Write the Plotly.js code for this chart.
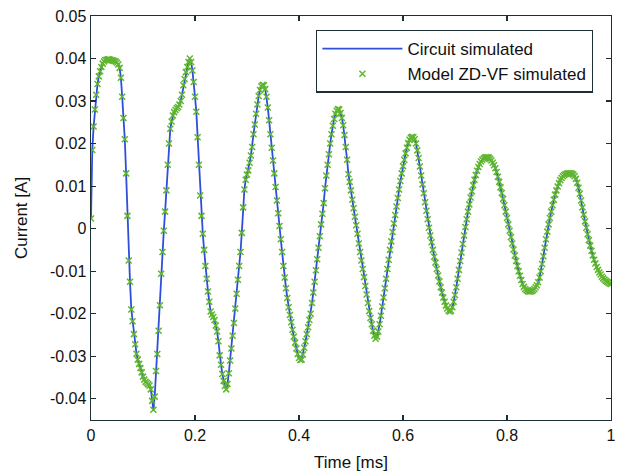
<!DOCTYPE html>
<html>
<head>
<meta charset="utf-8">
<script src="https://cdn.plot.ly/plotly-3.0.1.min.js"></script>
<style>html,body{margin:0;padding:0;background:#fff;}#chart{width:620px;height:475px;}</style>
</head>
<body>
<div id="chart"></div>
<script>
// Time axis [ms], sampled every 0.0025 ms
const timeMs = [
0.0000,0.0025,0.0050,0.0075,0.0100,0.0125,0.0150,0.0175,0.0200,0.0225,0.0250,0.0275,0.0300,0.0325,0.0350,0.0375,0.0400,0.0425,0.0450,0.0475,
0.0500,0.0525,0.0550,0.0575,0.0600,0.0625,0.0650,0.0675,0.0700,0.0725,0.0750,0.0775,0.0800,0.0825,0.0850,0.0875,0.0900,0.0925,0.0950,0.0975,
0.1000,0.1025,0.1050,0.1075,0.1100,0.1125,0.1150,0.1175,0.1200,0.1225,0.1250,0.1275,0.1300,0.1325,0.1350,0.1375,0.1400,0.1425,0.1450,0.1475,
0.1500,0.1525,0.1550,0.1575,0.1600,0.1625,0.1650,0.1675,0.1700,0.1725,0.1750,0.1775,0.1800,0.1825,0.1850,0.1875,0.1900,0.1925,0.1950,0.1975,
0.2000,0.2025,0.2050,0.2075,0.2100,0.2125,0.2150,0.2175,0.2200,0.2225,0.2250,0.2275,0.2300,0.2325,0.2350,0.2375,0.2400,0.2425,0.2450,0.2475,
0.2500,0.2525,0.2550,0.2575,0.2600,0.2625,0.2650,0.2675,0.2700,0.2725,0.2750,0.2775,0.2800,0.2825,0.2850,0.2875,0.2900,0.2925,0.2950,0.2975,
0.3000,0.3025,0.3050,0.3075,0.3100,0.3125,0.3150,0.3175,0.3200,0.3225,0.3250,0.3275,0.3300,0.3325,0.3350,0.3375,0.3400,0.3425,0.3450,0.3475,
0.3500,0.3525,0.3550,0.3575,0.3600,0.3625,0.3650,0.3675,0.3700,0.3725,0.3750,0.3775,0.3800,0.3825,0.3850,0.3875,0.3900,0.3925,0.3950,0.3975,
0.4000,0.4025,0.4050,0.4075,0.4100,0.4125,0.4150,0.4175,0.4200,0.4225,0.4250,0.4275,0.4300,0.4325,0.4350,0.4375,0.4400,0.4425,0.4450,0.4475,
0.4500,0.4525,0.4550,0.4575,0.4600,0.4625,0.4650,0.4675,0.4700,0.4725,0.4750,0.4775,0.4800,0.4825,0.4850,0.4875,0.4900,0.4925,0.4950,0.4975,
0.5000,0.5025,0.5050,0.5075,0.5100,0.5125,0.5150,0.5175,0.5200,0.5225,0.5250,0.5275,0.5300,0.5325,0.5350,0.5375,0.5400,0.5425,0.5450,0.5475,
0.5500,0.5525,0.5550,0.5575,0.5600,0.5625,0.5650,0.5675,0.5700,0.5725,0.5750,0.5775,0.5800,0.5825,0.5850,0.5875,0.5900,0.5925,0.5950,0.5975,
0.6000,0.6025,0.6050,0.6075,0.6100,0.6125,0.6150,0.6175,0.6200,0.6225,0.6250,0.6275,0.6300,0.6325,0.6350,0.6375,0.6400,0.6425,0.6450,0.6475,
0.6500,0.6525,0.6550,0.6575,0.6600,0.6625,0.6650,0.6675,0.6700,0.6725,0.6750,0.6775,0.6800,0.6825,0.6850,0.6875,0.6900,0.6925,0.6950,0.6975,
0.7000,0.7025,0.7050,0.7075,0.7100,0.7125,0.7150,0.7175,0.7200,0.7225,0.7250,0.7275,0.7300,0.7325,0.7350,0.7375,0.7400,0.7425,0.7450,0.7475,
0.7500,0.7525,0.7550,0.7575,0.7600,0.7625,0.7650,0.7675,0.7700,0.7725,0.7750,0.7775,0.7800,0.7825,0.7850,0.7875,0.7900,0.7925,0.7950,0.7975,
0.8000,0.8025,0.8050,0.8075,0.8100,0.8125,0.8150,0.8175,0.8200,0.8225,0.8250,0.8275,0.8300,0.8325,0.8350,0.8375,0.8400,0.8425,0.8450,0.8475,
0.8500,0.8525,0.8550,0.8575,0.8600,0.8625,0.8650,0.8675,0.8700,0.8725,0.8750,0.8775,0.8800,0.8825,0.8850,0.8875,0.8900,0.8925,0.8950,0.8975,
0.9000,0.9025,0.9050,0.9075,0.9100,0.9125,0.9150,0.9175,0.9200,0.9225,0.9250,0.9275,0.9300,0.9325,0.9350,0.9375,0.9400,0.9425,0.9450,0.9475,
0.9500,0.9525,0.9550,0.9575,0.9600,0.9625,0.9650,0.9675,0.9700,0.9725,0.9750,0.9775,0.9800,0.9825,0.9850,0.9875,0.9900,0.9925,0.9950,0.9975,
1.0000
];

// Circuit simulated current [A]
const circuitCurrent = [
0.0024,0.0185,0.0240,0.0280,0.0315,0.0340,0.0358,0.0370,0.0380,0.0388,0.0393,0.0396,0.0397,0.0398,0.0398,0.0397,0.0396,0.0395,0.0394,0.0393,
0.0390,0.0386,0.0378,0.0355,0.0310,0.0260,0.0210,0.0130,0.0030,-0.0075,-0.0125,-0.0190,-0.0218,-0.0248,-0.0272,-0.0294,-0.0308,-0.0318,-0.0328,-0.0338,
-0.0348,-0.0355,-0.0360,-0.0363,-0.0366,-0.0369,-0.0378,-0.0405,-0.0426,-0.0395,-0.0335,-0.0295,-0.0240,-0.0180,-0.0106,-0.0055,-0.0005,0.0040,0.0090,0.0150,
0.0200,0.0235,0.0252,0.0266,0.0274,0.0279,0.0283,0.0286,0.0292,0.0300,0.0315,0.0337,0.0352,0.0368,0.0380,0.0392,0.0400,0.0392,0.0372,0.0345,
0.0310,0.0275,0.0215,0.0150,0.0078,0.0030,-0.0012,-0.0050,-0.0088,-0.0118,-0.0148,-0.0172,-0.0195,-0.0202,-0.0208,-0.0215,-0.0228,-0.0242,-0.0265,-0.0298,
-0.0320,-0.0342,-0.0358,-0.0370,-0.0378,-0.0365,-0.0340,-0.0310,-0.0282,-0.0252,-0.0222,-0.0188,-0.0153,-0.0120,-0.0088,-0.0055,-0.0010,0.0050,0.0092,0.0115,
0.0127,0.0137,0.0155,0.0172,0.0192,0.0222,0.0245,0.0270,0.0292,0.0312,0.0326,0.0335,0.0338,0.0337,0.0328,0.0310,0.0285,0.0255,0.0222,0.0190,
0.0160,0.0130,0.0098,0.0066,0.0036,0.0006,-0.0025,-0.0055,-0.0088,-0.0115,-0.0140,-0.0163,-0.0185,-0.0203,-0.0220,-0.0238,-0.0254,-0.0268,-0.0282,-0.0295,
-0.0304,-0.0309,-0.0308,-0.0296,-0.0280,-0.0265,-0.0248,-0.0232,-0.0215,-0.0200,-0.0175,-0.0150,-0.0125,-0.0098,-0.0072,-0.0045,-0.0018,0.0010,0.0035,0.0060,
0.0095,0.0125,0.0150,0.0175,0.0200,0.0222,0.0242,0.0258,0.0270,0.0277,0.0281,0.0280,0.0272,0.0260,0.0243,0.0220,0.0192,0.0162,0.0128,0.0110,
0.0090,0.0068,0.0048,0.0028,0.0008,-0.0012,-0.0035,-0.0055,-0.0075,-0.0095,-0.0114,-0.0135,-0.0155,-0.0175,-0.0194,-0.0210,-0.0225,-0.0240,-0.0252,-0.0259,
-0.0254,-0.0242,-0.0225,-0.0205,-0.0183,-0.0162,-0.0140,-0.0118,-0.0095,-0.0073,-0.0050,-0.0030,-0.0008,0.0012,0.0032,0.0052,0.0072,0.0092,0.0112,0.0130,
0.0147,0.0162,0.0177,0.0190,0.0201,0.0209,0.0214,0.0216,0.0215,0.0210,0.0200,0.0184,0.0166,0.0146,0.0125,0.0104,0.0083,0.0062,0.0042,0.0022,
0.0002,-0.0016,-0.0032,-0.0050,-0.0066,-0.0080,-0.0095,-0.0110,-0.0124,-0.0138,-0.0150,-0.0162,-0.0172,-0.0181,-0.0188,-0.0193,-0.0195,-0.0193,-0.0185,-0.0172,
-0.0156,-0.0138,-0.0118,-0.0097,-0.0076,-0.0056,-0.0036,-0.0016,0.0004,0.0022,0.0040,0.0057,0.0073,0.0088,0.0102,0.0115,0.0126,0.0136,0.0145,0.0152,
0.0158,0.0162,0.0165,0.0167,0.0168,0.0168,0.0167,0.0164,0.0160,0.0155,0.0149,0.0142,0.0133,0.0122,0.0110,0.0097,0.0084,0.0070,0.0055,0.0040,
0.0025,0.0010,-0.0005,-0.0020,-0.0035,-0.0049,-0.0063,-0.0076,-0.0088,-0.0100,-0.0111,-0.0121,-0.0130,-0.0137,-0.0142,-0.0145,-0.0147,-0.0148,-0.0148,-0.0147,
-0.0145,-0.0142,-0.0138,-0.0133,-0.0126,-0.0115,-0.0100,-0.0083,-0.0065,-0.0045,-0.0025,-0.0007,0.0010,0.0025,0.0040,0.0055,0.0068,0.0080,0.0090,0.0099,
0.0107,0.0114,0.0119,0.0123,0.0126,0.0128,0.0129,0.0130,0.0130,0.0130,0.0129,0.0127,0.0123,0.0117,0.0108,0.0096,0.0082,0.0066,0.0050,0.0033,
0.0017,0.0002,-0.0013,-0.0027,-0.0040,-0.0052,-0.0063,-0.0073,-0.0082,-0.0090,-0.0097,-0.0103,-0.0108,-0.0113,-0.0117,-0.0120,-0.0123,-0.0125,-0.0127,-0.0129,
-0.0130
];

// Model ZD-VF simulated current [A]; coincides with the circuit result at this scale
const modelCurrent = circuitCurrent;

// Tick labels
const xTickVals = [0, 0.2, 0.4, 0.6, 0.8, 1];
const xTickText = ["0", "0.2", "0.4", "0.6", "0.8", "1"];
const yTickVals = [-0.04, -0.03, -0.02, -0.01, 0, 0.01, 0.02, 0.03, 0.04, 0.05];
const yTickText = ["-0.04", "-0.03", "-0.02", "-0.01", "0", "0.01", "0.02", "0.03", "0.04", "0.05"];

const seriesNames = ["Circuit simulated", "Model ZD-VF simulated"];

const axisColor = "#1d2f36";
const textColor = "#111111";
const fontFamily = "Liberation Sans, Arial, Helvetica, sans-serif";

const traces = [
  {
    x: timeMs, y: circuitCurrent, name: seriesNames[0],
    type: "scatter", mode: "lines",
    line: { color: "#2f4fd8", width: 1.8 }
  },
  {
    x: timeMs, y: modelCurrent, name: seriesNames[1],
    type: "scatter", mode: "markers",
    marker: { symbol: "x-thin", size: 6, color: "#5fb62f", line: { color: "#5fb62f", width: 1.5 } }
  }
];

const axisCommon = {
  showline: true, linecolor: axisColor, linewidth: 1.4,
  mirror: "ticks", ticks: "inside", ticklen: 5, tickwidth: 1.2, tickcolor: axisColor,
  showgrid: false, zeroline: false,
  tickfont: { family: fontFamily, size: 16, color: textColor }
};

const layout = {
  width: 620, height: 475,
  margin: { l: 91, r: 9, t: 16, b: 55 },
  paper_bgcolor: "#ffffff", plot_bgcolor: "#ffffff",
  font: { family: fontFamily, color: textColor },
  showlegend: true,
  legend: {
    x: 0.9654, y: 0.966, xanchor: "right", yanchor: "top",
    bgcolor: "#ffffff", bordercolor: axisColor, borderwidth: 1.4,
    font: { family: fontFamily, size: 17, color: textColor },
    itemwidth: 80, tracegroupgap: 0
  },
  xaxis: Object.assign({}, axisCommon, {
    range: [0, 1], tickvals: xTickVals, ticktext: xTickText,
    title: { text: "Time [ms]", font: { family: fontFamily, size: 17, color: textColor }, standoff: 13 }
  }),
  yaxis: Object.assign({}, axisCommon, {
    range: [-0.045, 0.05], tickvals: yTickVals, ticktext: yTickText,
    title: { text: "Current [A]", font: { family: fontFamily, size: 17, color: textColor }, standoff: 18 }
  })
};

Plotly.newPlot("chart", traces, layout, { displayModeBar: false, staticPlot: true });
</script>
</body>
</html>
